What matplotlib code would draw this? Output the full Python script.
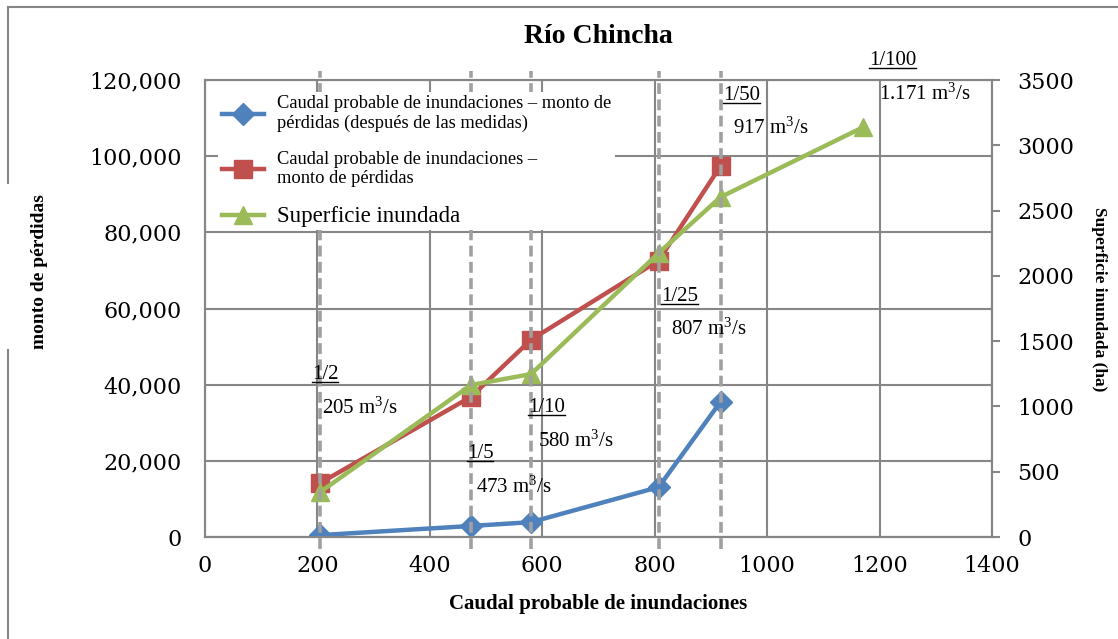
"""Río Chincha: caudal probable vs monto de pérdidas y superficie inundada."""

import matplotlib

matplotlib.use("Agg")
import matplotlib.pyplot as plt
from matplotlib.lines import Line2D
from matplotlib.ticker import FuncFormatter, MultipleLocator

plt.rcParams["font.family"] = ["Liberation Serif", "DejaVu Serif"]
plt.rcParams["mathtext.fontset"] = "custom"
plt.rcParams["mathtext.rm"] = "Liberation Serif"
plt.rcParams["mathtext.it"] = "Liberation Serif:italic"

# caudal (m3/s) de cada periodo de retorno
caudal = [205, 473, 580, 807, 917]
caudal_sup = [205, 473, 580, 807, 917, 1171]

perdidas_despues = [500, 2900, 3900, 13100, 35500]
perdidas = [14200, 36800, 51800, 72600, 97400]
superficie = [345, 1164, 1248, 2175, 2603, 3139]

periodos = ["1/2", "1/5", "1/10", "1/25", "1/50", "1/100"]
etiqueta_caudal = ["205", "473", "580", "807", "917", "1.171"]

lbl_despues = "Caudal probable de inundaciones – monto de\npérdidas (después de las medidas)"
lbl_perdidas = "Caudal probable de inundaciones –\nmonto de pérdidas"
lbl_superficie = "Superficie inundada"

# altura (eje izquierdo) y desplazamiento horizontal (pt) de cada etiqueta
pos_y = [42600, 21800, 34000, 63200, 116000, 125000]
pos_dx = [-6, -3, -2, 2, 2, 4]

AZUL, ROJO, VERDE, GRIS = "#4F81BD", "#C0504D", "#9BBB59", "#868686"

fig = plt.figure(figsize=(11.18, 6.39), dpi=100)
ax = fig.add_axes([0.1834, 0.1596, 0.7039, 0.7152])
ax2 = ax.twinx()

l1, = ax.plot(caudal, perdidas_despues, color=AZUL, lw=3.2, marker="D", ms=11, zorder=3)
l2, = ax.plot(caudal, perdidas, color=ROJO, lw=3.2, marker="s", ms=12.5, zorder=3)
l3, = ax2.plot(caudal_sup, superficie, color=VERDE, lw=3.2, marker="^", ms=12.5, zorder=3)

# lineas verticales de cada caudal
for x in caudal:
    ax2.plot([x, x], [-90, 3570], color="#A0A0A0", lw=2.6, ls=(0, (3, 1.5)), zorder=5, clip_on=False)

# etiquetas de periodo de retorno
textos_periodo = []
for i, (p, c) in enumerate(zip(periodos, etiqueta_caudal)):
    x = caudal_sup[i]
    t = ax2.annotate(p, (x, pos_y[i]), xycoords=ax.transData, xytext=(pos_dx[i], 0),
                     textcoords="offset points", fontsize=15, va="center", ha="left",
                     annotation_clip=False, zorder=7)
    textos_periodo.append(t)
    ax2.annotate(c + r" m$^3$/s", (x, pos_y[i]), xycoords=ax.transData, xytext=(pos_dx[i] + 7, -24),
                 textcoords="offset points", fontsize=15, va="center", ha="left",
                 annotation_clip=False, zorder=7)

ax.set_xlim(0, 1400)
ax.set_ylim(0, 120000)
ax2.set_ylim(0, 3500)
ax.xaxis.set_major_locator(MultipleLocator(200))
ax.yaxis.set_major_locator(MultipleLocator(20000))
ax2.yaxis.set_major_locator(MultipleLocator(500))
ax.yaxis.set_major_formatter(FuncFormatter(lambda v, _: f"{v:,.0f}"))

ax.grid(True, color=GRIS, lw=1.5, zorder=0)
ax.set_axisbelow(True)
for a in (ax, ax2):
    for s in a.spines.values():
        s.set_color(GRIS)
        s.set_linewidth(1.5)
ax.tick_params(axis="y", length=0, labelsize=16, pad=17)
ax.tick_params(axis="x", length=0, labelsize=16, pad=13)
ax2.tick_params(axis="y", length=6, width=1.5, color=GRIS, labelsize=16, pad=12)
for lab in ax.get_xticklabels() + ax.get_yticklabels() + ax2.get_yticklabels():
    lab.set_family("DejaVu Serif")

ax.set_title("Río Chincha", fontsize=20, fontweight="bold", pad=27)
ax.set_xlabel("Caudal probable de inundaciones", fontsize=15, fontweight="bold", labelpad=12)
ax.set_ylabel("monto de pérdidas", fontsize=14, fontweight="bold")
ax.yaxis.set_label_coords(-0.2, 0.58)
ax2.set_ylabel("Superficie inundada (ha)", fontsize=12.5, fontweight="bold", rotation=270)
ax2.yaxis.set_label_coords(1.146, 0.52)

leg = ax2.legend([l1, l2, l3], [lbl_despues, lbl_perdidas, lbl_superficie], loc="upper left",
                 bbox_to_anchor=(0.005, 0.995), fontsize=13.3, handlelength=2.3,
                 frameon=True, facecolor="white", edgecolor="none", framealpha=1,
                 labelspacing=1.0, borderpad=0.2, handletextpad=0.7)
leg.get_frame().set_boxstyle("square", pad=0)
leg.get_texts()[2].set_fontsize(16.5)
leg.set_zorder(6)

# marco exterior del grafico (con hueco para el titulo del eje)
fig.add_artist(Line2D([0.007, 0.007], [0.0, 0.452], color=GRIS, lw=1.5, zorder=-1))
fig.add_artist(Line2D([0.007, 0.007], [0.714, 0.989], color=GRIS, lw=1.5, zorder=-1))
fig.add_artist(Line2D([0.007, 1.0], [0.989, 0.989], color=GRIS, lw=1.5, zorder=-1))

# subrayado de los periodos de retorno
fig.canvas.draw()
inv = fig.transFigure.inverted()
for t in textos_periodo:
    bb = t.get_window_extent()
    (x0, y0), (x1, _) = inv.transform([(bb.x0, bb.y0 + 2), (bb.x1, bb.y0 + 2)])
    fig.add_artist(Line2D([x0, x1], [y0, y0], color="black", lw=1.0))

fig.savefig("out.png", dpi=100)
